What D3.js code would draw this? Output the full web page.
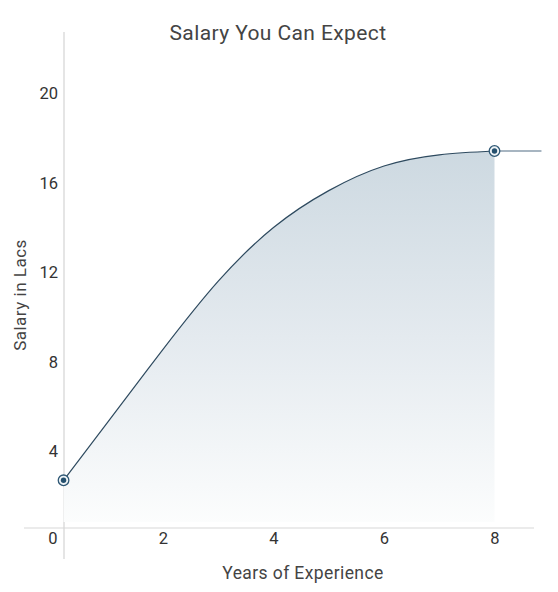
<!DOCTYPE html>
<html>
<head>
<meta charset="utf-8">
<script src="https://cdn.jsdelivr.net/npm/d3@7"></script>
<style>
  body { margin: 0; background: #fff; }
  svg text { font-family: Roboto, "Noto Sans", sans-serif; }
</style>
</head>
<body>
<div id="chart"></div>
<script>
// values
var years = [0.2, 1, 2, 3, 4, 5, 6, 7, 8];
var salary = [2.7, 5.3, 8.55, 11.6, 14.0, 15.65, 16.75, 17.25, 17.42];
var plateauEnd = 8.85; // flat line keeps going past the last point
var xTicks = [0, 2, 4, 6, 8];
var yTicks = [4, 8, 12, 16, 20];

var width = 558,
    height = 592;

var x = d3.scaleLinear()
    .domain([0, 8])
    .range([52.5, 494.5]);

var y = d3.scaleLinear()
    .domain([0, 20])
    .range([540.7, 93.3]);

var svg = d3.select("#chart")
    .append("svg")
    .attr("width", width)
    .attr("height", height);

var points = years.map(function(d, i) { return { x: d, y: salary[i] }; });

// gradient under the curve, fades to white at the bottom
var grad = svg.append("defs").append("linearGradient")
    .attr("id", "fade")
    .attr("gradientUnits", "userSpaceOnUse")
    .attr("x1", 0).attr("x2", 0)
    .attr("y1", y(17.4)).attr("y2", 524);
grad.append("stop").attr("offset", "0%").attr("stop-color", "#cdd9e1");
grad.append("stop").attr("offset", "50%").attr("stop-color", "#e4eaef");
grad.append("stop").attr("offset", "100%").attr("stop-color", "#fcfdfd");

// axis lines (they cross at the first point, not at 0)
svg.append("line")
    .attr("x1", 64).attr("x2", 64)
    .attr("y1", 32).attr("y2", 559)
    .attr("stroke", "#d4d4d4")
    .attr("stroke-width", 1.2);

svg.append("line")
    .attr("x1", 24).attr("x2", 534)
    .attr("y1", 528).attr("y2", 528)
    .attr("stroke", "#d8d8d8")
    .attr("stroke-width", 1.2);

var area = d3.area()
    .x(function(d) { return x(d.x); })
    .y0(522)
    .y1(function(d) { return y(d.y); })
    .curve(d3.curveNatural);

svg.append("path")
    .datum(points)
    .attr("d", area)
    .attr("fill", "url(#fade)");

// flat extension after the last point
svg.append("line")
    .attr("x1", x(years[years.length - 1]))
    .attr("x2", x(plateauEnd))
    .attr("y1", y(salary[salary.length - 1]))
    .attr("y2", y(salary[salary.length - 1]))
    .attr("stroke", "#8a9dad")
    .attr("stroke-width", 1.5);

var line = d3.line()
    .x(function(d) { return x(d.x); })
    .y(function(d) { return y(d.y); })
    .curve(d3.curveNatural);

svg.append("path")
    .datum(points)
    .attr("d", line)
    .attr("fill", "none")
    .attr("stroke", "#2e4a5f")
    .attr("stroke-width", 1.2);

// markers only on the two ends
var ends = [points[0], points[points.length - 1]];

svg.selectAll(".ring")
    .data(ends)
    .enter().append("circle")
    .attr("cx", function(d) { return x(d.x); })
    .attr("cy", function(d) { return y(d.y); })
    .attr("r", 5.3)
    .attr("fill", "#eef3f6")
    .attr("stroke", "#2f5875")
    .attr("stroke-width", 1.3);

svg.selectAll(".dot")
    .data(ends)
    .enter().append("circle")
    .attr("cx", function(d) { return x(d.x); })
    .attr("cy", function(d) { return y(d.y); })
    .attr("r", 2.7)
    .attr("fill", "#24506e");

// tick labels
var yAxis = svg.append("g")
    .attr("transform", "translate(58,0)")
    .call(d3.axisLeft(y).tickValues(yTicks).tickSize(0).tickPadding(0));
yAxis.select(".domain").remove();
yAxis.selectAll("text")
    .attr("font-size", 16.5)
    .attr("fill", "#333");

var xAxis = svg.append("g")
    .attr("transform", "translate(0,532)")
    .call(d3.axisBottom(x).tickValues(xTicks).tickSize(0).tickPadding(0));
xAxis.select(".domain").remove();
xAxis.selectAll("text")
    .attr("font-size", 16.5)
    .attr("fill", "#333");

// titles
svg.append("text")
    .attr("x", 278)
    .attr("y", 40)
    .attr("text-anchor", "middle")
    .attr("font-size", 21)
    .attr("letter-spacing", 0.4)
    .attr("fill", "#444")
    .text("Salary You Can Expect");

svg.append("text")
    .attr("x", 303)
    .attr("y", 579)
    .attr("text-anchor", "middle")
    .attr("font-size", 17.5)
    .attr("letter-spacing", 0.4)
    .attr("fill", "#444")
    .text("Years of Experience");

svg.append("text")
    .attr("transform", "translate(26,295) rotate(-90)")
    .attr("text-anchor", "middle")
    .attr("font-size", 17)
    .attr("letter-spacing", 0.5)
    .attr("fill", "#444")
    .text("Salary in Lacs");
</script>
</body>
</html>
